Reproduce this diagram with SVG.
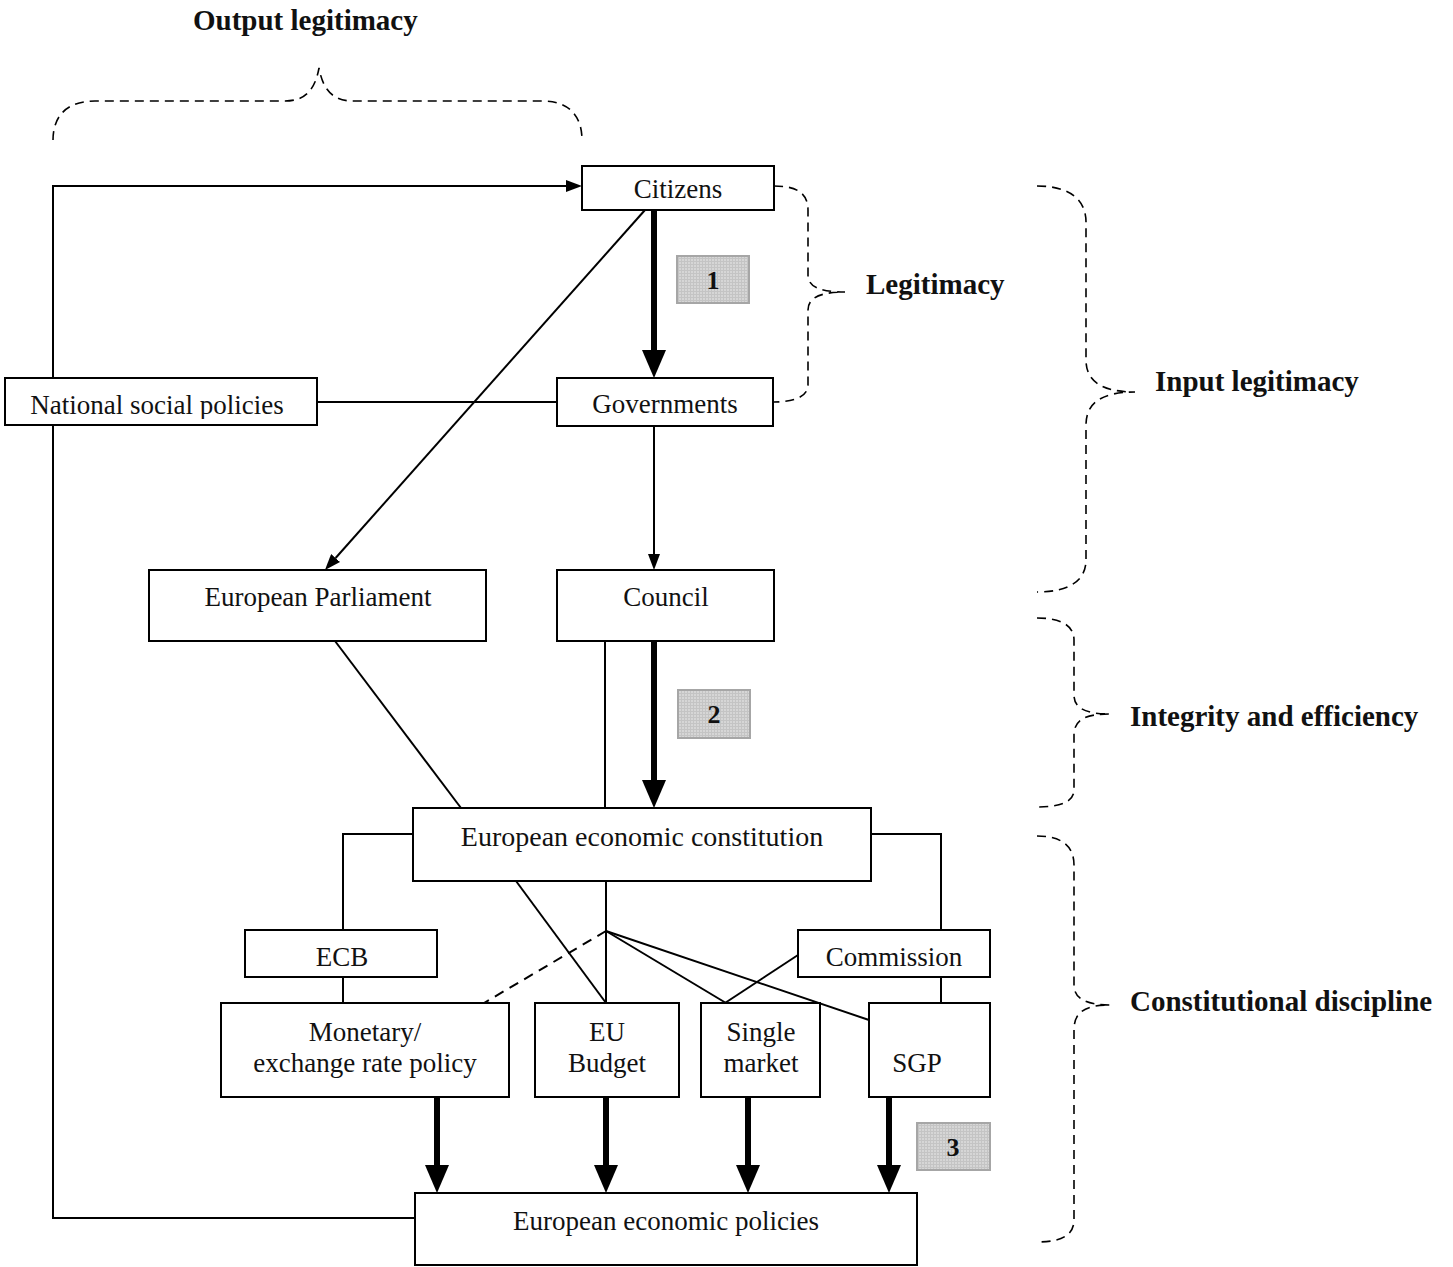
<svg xmlns="http://www.w3.org/2000/svg" width="1453" height="1267" viewBox="0 0 1453 1267">
<defs>
<style>
.box{fill:#fff;stroke:#000;stroke-width:2}
.num{fill:url(#grid);stroke:#a6a6a6;stroke-width:2}
.t{font-family:"Liberation Serif","DejaVu Serif",serif;font-size:27px;fill:#111;text-anchor:middle}
.b{font-family:"Liberation Serif","DejaVu Serif",serif;font-size:29px;font-weight:bold;fill:#111}
.nb{font-family:"Liberation Serif","DejaVu Serif",serif;font-size:26px;font-weight:bold;fill:#111;text-anchor:middle}
.ln{fill:none;stroke:#000;stroke-width:2}
.thick{fill:none;stroke:#000;stroke-width:6}
.dash{fill:none;stroke:#000;stroke-width:1.6;stroke-dasharray:9 6}
</style>
<pattern id="grid" width="3" height="3" patternUnits="userSpaceOnUse">
<rect width="3" height="3" fill="#d6d6d6"/>
<path d="M0,0.5H3M0.5,0V3" stroke="#c4c4c4" stroke-width="1"/>
</pattern>
<marker id="big" markerUnits="userSpaceOnUse" markerWidth="28" markerHeight="24" refX="0" refY="12" orient="auto">
<path d="M0,0 L28,12 L0,24 z" fill="#000"/>
</marker>
<marker id="small" markerUnits="userSpaceOnUse" markerWidth="16" markerHeight="12" refX="0" refY="6" orient="auto">
<path d="M0,0 L16,6 L0,12 z" fill="#000"/>
</marker>
<clipPath id="nspClip"><rect x="5" y="378" width="312" height="41"/></clipPath>
</defs>

<g id="connectors">
<polyline class="ln" points="415,1218 53,1218 53,186 566,186" marker-end="url(#small)"/>
<line class="thick" x1="654" y1="210" x2="654" y2="350" marker-end="url(#big)"/>
<line class="ln" x1="645" y1="210" x2="335.6" y2="558" marker-end="url(#small)"/>
<line class="ln" x1="317" y1="402" x2="557" y2="402"/>
<line class="ln" x1="654" y1="426" x2="654" y2="554" marker-end="url(#small)"/>
<line class="ln" x1="605" y1="641" x2="605" y2="808"/>
<line class="thick" x1="654" y1="641" x2="654" y2="780" marker-end="url(#big)"/>
<line class="ln" x1="335" y1="641" x2="461" y2="808"/>
<polyline class="ln" points="413,834 343,834 343,930"/>
<polyline class="ln" points="871,834 941,834 941,930"/>
<line class="ln" x1="343" y1="977" x2="343" y2="1003"/>
<line class="ln" x1="941" y1="977" x2="941" y2="1003"/>
<line class="ln" x1="606" y1="881" x2="606" y2="1003"/>
<line class="ln" x1="516" y1="881" x2="606" y2="1003"/>
<line class="dash" x1="606" y1="931" x2="484" y2="1003" style="stroke-width:2;stroke-dasharray:10 7"/>
<line class="ln" x1="606" y1="931" x2="726" y2="1003"/>
<line class="ln" x1="606" y1="931" x2="869" y2="1020"/>
<line class="ln" x1="798" y1="955" x2="725" y2="1003"/>
<line class="thick" x1="437" y1="1097" x2="437" y2="1165" marker-end="url(#big)"/>
<line class="thick" x1="606" y1="1097" x2="606" y2="1165" marker-end="url(#big)"/>
<line class="thick" x1="748" y1="1097" x2="748" y2="1165" marker-end="url(#big)"/>
<line class="thick" x1="889" y1="1097" x2="889" y2="1165" marker-end="url(#big)"/>
</g>

<g id="braces">
<path class="dash" d="M53,140 C53,115 68,101 95,101 L285,101 C305,101 315,90 319,68 C323,90 333,101 353,101 L543,101 C568,101 582,115 582,140"/>
<path class="dash" d="M774,186 C795,186 808,192 808,210 L808,275 C808,286 818,292 845,292 C818,292 808,299 808,310 L808,385 C808,396 795,402 774,402"/>
<path class="dash" d="M1037,186 C1070,186 1086,200 1086,222 L1086,360 C1086,380 1100,392 1135,392 C1100,392 1086,404 1086,425 L1086,560 C1086,580 1070,592 1037,592"/>
<path class="dash" d="M1037,618 C1060,618 1074,625 1074,640 L1074,695 C1074,708 1085,714 1110,714 C1085,714 1074,720 1074,735 L1074,790 C1074,802 1060,807 1037,807"/>
<path class="dash" d="M1037,836 C1060,836 1074,845 1074,865 L1074,985 C1074,998 1085,1005 1110,1005 C1085,1005 1074,1012 1074,1030 L1074,1220 C1074,1236 1060,1242 1037,1242"/>
<text class="b" x="193" y="30">Output legitimacy</text>
<text class="b" x="866" y="294">Legitimacy</text>
<text class="b" x="1155" y="391">Input legitimacy</text>
<text class="b" x="1130" y="726">Integrity and efficiency</text>
<text class="b" x="1130" y="1011">Constitutional discipline</text>
</g>

<g id="citizens"><rect class="box" x="582" y="166" width="192" height="44"/><text class="t" x="678" y="198">Citizens</text></g>
<g id="num1"><rect class="num" x="677" y="256" width="72" height="47"/><text class="nb" x="713" y="289">1</text></g>
<g id="governments"><rect class="box" x="557" y="378" width="216" height="48"/><text class="t" x="665" y="413">Governments</text></g>
<g id="national-social-policies"><rect class="box" x="5" y="378" width="312" height="47"/><text class="t" x="157" y="414" clip-path="url(#nspClip)">National social policies</text></g>
<g id="european-parliament"><rect class="box" x="149" y="570" width="337" height="71"/><text class="t" x="318" y="606">European Parliament</text></g>
<g id="council"><rect class="box" x="557" y="570" width="217" height="71"/><text class="t" x="666" y="606">Council</text></g>
<g id="num2"><rect class="num" x="678" y="690" width="72" height="48"/><text class="nb" x="714" y="723">2</text></g>
<g id="eec"><rect class="box" x="413" y="808" width="458" height="73"/><text class="t" x="642" y="846" style="font-size:28px">European economic constitution</text></g>
<g id="ecb"><rect class="box" x="245" y="930" width="192" height="47"/><text class="t" x="342" y="966">ECB</text></g>
<g id="commission"><rect class="box" x="798" y="930" width="192" height="47"/><text class="t" x="894" y="966">Commission</text></g>
<g id="monetary"><rect class="box" x="221" y="1003" width="288" height="94"/><text class="t" x="365" y="1041">Monetary/</text><text class="t" x="365" y="1072">exchange rate policy</text></g>
<g id="eu-budget"><rect class="box" x="535" y="1003" width="144" height="94"/><text class="t" x="607" y="1041">EU</text><text class="t" x="607" y="1072">Budget</text></g>
<g id="single-market"><rect class="box" x="701" y="1003" width="119" height="94"/><text class="t" x="761" y="1041">Single</text><text class="t" x="761" y="1072">market</text></g>
<g id="sgp"><rect class="box" x="869" y="1003" width="121" height="94"/><text class="t" x="917" y="1072">SGP</text></g>
<g id="num3"><rect class="num" x="917" y="1123" width="73" height="47"/><text class="nb" x="953" y="1156">3</text></g>
<g id="eep"><rect class="box" x="415" y="1193" width="502" height="72"/><text class="t" x="666" y="1230">European economic policies</text></g>
</svg>
